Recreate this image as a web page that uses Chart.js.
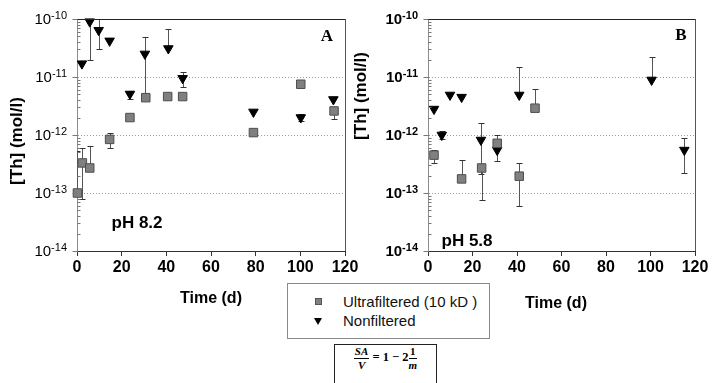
<!DOCTYPE html>
<html><head><meta charset="utf-8">
<script src="https://cdn.jsdelivr.net/npm/chart.js@4/dist/chart.umd.min.js"></script>
<style>
html,body{margin:0;padding:0;background:#fff;}
body{width:712px;height:383px;overflow:hidden;position:relative;font-family:'Liberation Sans',Arial,sans-serif;}
#ca{position:absolute;left:0;top:0;z-index:2;}
#cb{position:absolute;left:352px;top:0;z-index:1;}
#legend{position:absolute;left:287px;top:283px;width:203px;height:56px;box-sizing:border-box;border:1px solid #8a8a8a;background:#fff;}
.lrow{position:absolute;left:0;height:18px;line-height:18px;font-size:15px;color:#111;}
.lrow .txt{position:absolute;left:55px;top:0;white-space:nowrap;}
.mk-sq{position:absolute;left:27px;top:5px;width:7px;height:7px;box-sizing:border-box;background:#808080;border:1px solid #555;}
.mk-tri{position:absolute;left:26px;top:6px;width:0;height:0;border-left:4px solid transparent;border-right:4px solid transparent;border-top:7px solid #000;}
#formula{position:absolute;left:334px;top:344px;width:103px;height:52px;box-sizing:border-box;border:1.3px solid #222;background:#fff;}
#formula .inner{position:absolute;left:0;right:0;top:1px;text-align:center;font-family:'Liberation Serif','DejaVu Serif',serif;font-weight:bold;font-size:12.5px;color:#000;white-space:nowrap;}
.frac{display:inline-flex;flex-direction:column;align-items:center;vertical-align:middle;font-size:11px;line-height:11px;}
.frac span:first-child{border-bottom:1px solid #000;padding:0 1px 1px 1px;}
.frac span:last-child{padding-top:1px;}
.it{font-style:italic;}
</style>
</head>
<body>
<canvas id="ca" width="360" height="320"></canvas>
<canvas id="cb" width="360" height="320"></canvas>
<div id="legend"></div>
<div id="formula"><div class="inner"><span class="frac it"><span>SA</span><span>V</span></span> = 1 − 2<span class="frac"><span>1</span><span class="it">m</span></span></div></div>
<script>
// ---------------- data ----------------
const seriesNames = ['Ultrafiltered (10 kD )', 'Nonfiltered'];
const decadeExponents = [-14, -13, -12, -11, -10];
const xTicks = [0, 20, 40, 60, 80, 100, 120];
const xTitle = 'Time (d)';
const yTitle = '[Th] (mol/l)';

// Panel A (pH 8.2)
const timeA_UF = [0.2, 2.4, 5.7, 14.6, 23.7, 30.8, 40.6, 47.3, 79.0, 100.2, 115.1];
const thA_UF   = [1.0e-13, 3.3e-13, 2.7e-13, 8.4e-13, 2.0e-12, 4.4e-12, 4.6e-12, 4.6e-12, 1.1e-12, 7.5e-12, 2.6e-12];
const hiA_UF   = [5.3e-13, 5.9e-13, 6.5e-13, 1.07e-12, null, null, null, null, null, null, null];
const loA_UF   = [null, 7.8e-14, null, 5.9e-13, null, null, null, null, null, null, 1.9e-12];

const timeA_NF = [2.2, 5.7, 9.7, 14.6, 23.7, 30.4, 40.9, 47.3, 79.0, 100.2, 114.8];
const thA_NF   = [1.7e-11, 9.0e-11, 6.4e-11, 4.2e-11, 5.1e-12, 2.5e-11, 3.1e-11, 9.5e-12, 2.5e-12, 2.0e-12, 4.1e-12];
const hiA_NF   = [null, null, 1.0e-10, null, 5.8e-12, 4.8e-11, 6.6e-11, 1.23e-11, null, 2.3e-12, null];
const loA_NF   = [null, 2.0e-11, 3.1e-11, null, 4.2e-12, 4.5e-12, null, 6.7e-12, null, 1.75e-12, null];

// Panel B (pH 5.8)
const timeB_UF = [2.7, 15.1, 24.1, 31.1, 41.0, 48.1];
const thB_UF   = [4.5e-13, 1.75e-13, 2.7e-13, 7.2e-13, 1.95e-13, 2.9e-12];
const hiB_UF   = [5.6e-13, 3.7e-13, null, 1.0e-12, 3.35e-13, 6.1e-12];
const loB_UF   = [3.3e-13, null, 7.7e-14, null, 5.9e-14, null];

const timeB_NF = [2.7, 6.2, 9.9, 15.1, 23.8, 31.1, 41.0, 100.5, 115.2];
const thB_NF   = [2.8e-12, 1.0e-12, 4.9e-12, 4.5e-12, 8.2e-13, 5.5e-13, 4.9e-12, 8.9e-12, 5.5e-13];
const hiB_NF   = [null, 1.15e-12, null, null, 1.6e-12, null, 1.5e-11, 2.2e-11, 9.0e-13];
const loB_NF   = [null, 8.5e-13, null, null, 2.1e-13, 3.6e-13, null, null, 2.2e-13];

// ---------------- helpers ----------------
const FONT = "'Liberation Sans', Arial, sans-serif";
Chart.defaults.font.family = FONT;

function pts(t, v, hi, lo) {
  return t.map((x, i) => ({x: x, y: v[i], hi: hi[i], lo: lo[i]}));
}

const panelPlugin = {
  id: 'panel',
  beforeDatasetsDraw(chart, args, o) {
    const {ctx, chartArea: ca, scales: {x, y}} = chart;
    ctx.save();
    ctx.strokeStyle = '#9a9a9a';
    ctx.lineWidth = 1;
    ctx.setLineDash([1, 2]);
    decadeExponents.slice(1, -1).forEach(e => {
      const py = Math.round(y.getPixelForValue(Math.pow(10, e))) + 0.5;
      ctx.beginPath(); ctx.moveTo(ca.left + 1, py); ctx.lineTo(ca.right, py); ctx.stroke();
    });
    ctx.setLineDash([]);
    ctx.beginPath(); ctx.rect(ca.left, ca.top, ca.right - ca.left, ca.bottom - ca.top + 8); ctx.clip();
    chart.data.datasets.forEach(ds => {
      ds.data.forEach(p => {
        const px = Math.round(x.getPixelForValue(p.x)) + 0.5;
        const py0 = y.getPixelForValue(p.y);
        [p.hi, p.lo].forEach(v => {
          if (v == null) return;
          const py1 = Math.round(y.getPixelForValue(v)) + 0.5;
          ctx.strokeStyle = '#555';
          ctx.lineWidth = 1;
          ctx.beginPath(); ctx.moveTo(px, py0); ctx.lineTo(px, py1); ctx.stroke();
          ctx.strokeStyle = '#333';
          ctx.beginPath(); ctx.moveTo(px - 3, py1); ctx.lineTo(px + 3, py1); ctx.stroke();
        });
      });
    });
    ctx.restore();
  },
  afterDraw(chart, args, o) {
    const {ctx, chartArea: ca, scales: {x, y}} = chart;
    ctx.save();
    ctx.lineWidth = 1;
    ctx.strokeStyle = '#222';
    ctx.beginPath(); ctx.moveTo(ca.left, ca.top + 0.5); ctx.lineTo(ca.right + 1, ca.top + 0.5); ctx.stroke();
    ctx.strokeStyle = '#555';
    ctx.beginPath(); ctx.moveTo(ca.right + 0.5, ca.top); ctx.lineTo(ca.right + 0.5, ca.bottom); ctx.stroke();
    ctx.strokeStyle = '#777';
    const ax = Math.round(ca.left) + 0.5;
    decadeExponents.forEach((e, i) => {
      const dv = Math.pow(10, e);
      const py = Math.round(y.getPixelForValue(dv)) + 0.5;
      ctx.beginPath(); ctx.moveTo(ax - 5, py); ctx.lineTo(ax, py); ctx.stroke();
      if (i < decadeExponents.length - 1) {
        for (let k = 2; k <= 9; k++) {
          const pm = Math.round(y.getPixelForValue(k * dv)) + 0.5;
          ctx.beginPath(); ctx.moveTo(ax, pm); ctx.lineTo(ax + 3, pm); ctx.stroke();
        }
      }
    });
    ctx.fillStyle = '#000';
    ctx.textBaseline = 'middle';
    ctx.textAlign = 'left';
    const w = o.bold ? 'bold ' : '';
    decadeExponents.forEach(e => {
      const py = y.getPixelForValue(Math.pow(10, e));
      ctx.font = w + '11px ' + FONT;
      const es = String(e);
      const w2 = ctx.measureText(es).width;
      ctx.font = w + '15px ' + FONT;
      const w1 = ctx.measureText('10').width;
      const right = ca.left - o.labelGap;
      ctx.fillText('10', right - w2 - w1, py + 1);
      ctx.font = w + '11px ' + FONT;
      ctx.fillText(es, right - w2, py - 3);
    });
    ctx.font = 'bold 17px ' + FONT;
    ctx.textAlign = 'center';
    ctx.save();
    ctx.translate(o.yTitleX, o.yTitleY);
    ctx.rotate(-Math.PI / 2);
    ctx.fillText(yTitle, 0, 0);
    ctx.restore();
    ctx.font = 'bold 16px ' + FONT;
    ctx.fillText(xTitle, o.xTitleX, o.xTitleY);
    ctx.font = 'bold 17px ' + FONT;
    ctx.fillText(o.ph, o.phX, o.phY);
    ctx.font = "bold 17px 'Liberation Serif', 'Times New Roman', serif";
    ctx.fillText(o.letter, o.letterX, o.letterY);
    ctx.restore();
  }
};

function makeChart(id, uf, nf, p) {
  return new Chart(document.getElementById(id), {
    type: 'scatter',
    data: {
      datasets: [
        {label: seriesNames[0], data: uf, pointStyle: 'rect', pointRadius: 6, pointHoverRadius: 6,
         backgroundColor: '#808080', borderColor: '#4d4d4d', borderWidth: 1, clip: false},
        {label: seriesNames[1], data: nf, pointStyle: 'triangle', rotation: 180, pointRadius: 5.5, pointHoverRadius: 5.5,
         backgroundColor: '#000', borderColor: '#000', borderWidth: 1, clip: false}
      ]
    },
    options: {
      responsive: false, animation: false, devicePixelRatio: 1, events: [],
      layout: {padding: {top: 19, right: p.padRight, left: 0, bottom: 0}},
      plugins: {legend: {display: false}, tooltip: {enabled: false}, panel: p},
      scales: {
        x: {
          type: 'linear', min: xTicks[0], max: xTicks[xTicks.length - 1],
          afterBuildTicks: s => { s.ticks = xTicks.map(v => ({value: v})); },
          afterFit: s => { s.height = 69; s.paddingLeft = 0; s.paddingRight = 0; },
          grid: {display: true, drawOnChartArea: false, drawTicks: true, tickLength: 5, color: '#333'},
          border: {display: true, color: '#333', width: 1},
          ticks: {font: {size: 16, weight: 'bold', family: FONT}, color: '#000', padding: 2, maxRotation: 0, autoSkip: false}
        },
        y: {
          type: 'logarithmic', min: Math.pow(10, decadeExponents[0]), max: Math.pow(10, decadeExponents[decadeExponents.length - 1]),
          afterFit: s => { s.width = p.axisW; s.paddingTop = 0; s.paddingBottom = 0; },
          grid: {display: false},
          border: {display: true, color: '#8c8c8c', width: 1},
          ticks: {display: false}
        }
      }
    },
    plugins: [panelPlugin]
  });
}

makeChart('ca', pts(timeA_UF, thA_UF, hiA_UF, loA_UF), pts(timeA_NF, thA_NF, hiA_NF, loA_NF), {
  padRight: 15, axisW: 77, bold: false, labelGap: 10,
  yTitleX: 17, yTitleY: 141, xTitleX: 211, xTitleY: 299,
  ph: 'pH 8.2', phX: 137, phY: 223, letter: 'A', letterX: 327, letterY: 37
});
makeChart('cb', pts(timeB_UF, thB_UF, hiB_UF, loB_UF), pts(timeB_NF, thB_NF, hiB_NF, loB_NF), {
  padRight: 17, axisW: 76, bold: true, labelGap: 10,
  yTitleX: 9, yTitleY: 96, xTitleX: 204, xTitleY: 304,
  ph: 'pH 5.8', phX: 115, phY: 241, letter: 'B', letterX: 329, letterY: 36
});

const lg = document.getElementById('legend');
seriesNames.forEach((n, i) => {
  const r = document.createElement('div');
  r.className = 'lrow';
  r.style.top = (i === 0 ? 9 : 28) + 'px';
  r.style.width = '100%';
  r.innerHTML = '<span class="' + (i === 0 ? 'mk-sq' : 'mk-tri') + '"></span><span class="txt"></span>';
  r.querySelector('.txt').textContent = n;
  lg.appendChild(r);
});
</script>
</body></html>
